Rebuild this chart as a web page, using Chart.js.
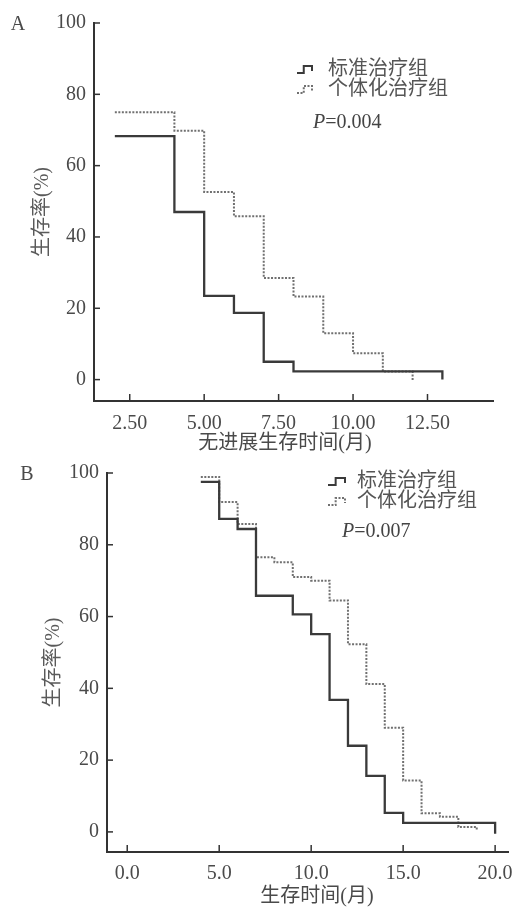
<!DOCTYPE html>
<html><head><meta charset="utf-8">
<script src="https://cdn.jsdelivr.net/npm/chart.js@4"></script>
<style>
html,body{margin:0;padding:0;background:#fff;width:512px;height:911px;overflow:hidden}
canvas{position:absolute;left:0}
</style></head><body>
<canvas id="cA" width="512" height="455" style="top:0"></canvas>
<canvas id="cB" width="512" height="456" style="top:455px"></canvas>
<script>
// ---- data ----
const seriesNames = ['标准治疗组', '个体化治疗组'];
const panelLabels = ['A', 'B'];
const pValues = ['0.004', '0.007'];
const xTitles = ['无进展生存时间(月)', '生存时间(月)'];
const yTitle = '生存率(%)';

const timeStdA = [2, 4, 5, 6, 7, 8, 13, 13];
const survStdA = [68.3, 47, 23.5, 18.7, 5, 2.3, 2.3, 0];
const timeIndA = [2, 4, 5, 6, 7, 8, 9, 10, 11, 12, 12];
const survIndA = [75, 69.8, 52.6, 45.8, 28.5, 23.3, 13, 7.4, 2.3, 2.3, -0.5];

const timeStdB = [4, 5, 6, 7, 9, 10, 11, 12, 13, 14, 15, 20, 20];
const survStdB = [97.5, 87.2, 84.4, 65.8, 60.6, 55.1, 36.8, 24, 15.6, 5.3, 2.5, 2.5, -0.5];
const timeIndB = [4, 5, 6, 7, 8, 9, 10, 11, 12, 13, 14, 15, 16, 17, 18, 19, 19];
const survIndB = [98.9, 91.9, 85.8, 76.5, 75.1, 71, 70, 64.5, 52.3, 41.2, 29, 14.3, 5.2, 4.2, 1.4, 1.4, 0.5];

const xTicksA = [2.5, 5, 7.5, 10, 12.5];
const xLabelsA = ['2.50', '5.00', '7.50', '10.00', '12.50'];
const xTicksB = [0, 5, 10, 15, 20];
const xLabelsB = ['0.0', '5.0', '10.0', '15.0', '20.0'];
const yTicks = [0, 20, 40, 60, 80, 100];
const yLabels = ['0', '20', '40', '60', '80', '100'];

// ---- drawing ----
const SERIF = '"Liberation Serif", "Noto Sans CJK SC", serif';
const AX = '#333';
const TXT = '#4a4a4a';

function pts(t, s) { return t.map((v, i) => ({ x: v, y: s[i] })); }

const annot = {
  id: 'annot',
  afterDraw(chart, args, o) {
    const ctx = chart.ctx, xs = chart.scales.x, ys = chart.scales.y;
    ctx.save();
    ctx.strokeStyle = AX; ctx.lineWidth = 1.5; ctx.setLineDash([]);
    o.xTicks.forEach(v => {
      const px = xs.getPixelForValue(v);
      ctx.beginPath(); ctx.moveTo(px, ys.bottom); ctx.lineTo(px, ys.bottom - 7); ctx.stroke();
    });
    o.yTicks.forEach(v => {
      const py = ys.getPixelForValue(v);
      ctx.beginPath(); ctx.moveTo(xs.left, py); ctx.lineTo(xs.left + 6, py); ctx.stroke();
    });
    // panel letter
    ctx.fillStyle = TXT;
    ctx.font = '20px ' + SERIF;
    ctx.textAlign = 'center'; ctx.textBaseline = 'middle';
    ctx.fillText(o.letter, o.letterX, o.letterY);
    // y title
    ctx.save();
    ctx.translate(o.yTitleX, (ys.top + ys.bottom) / 2);
    ctx.rotate(-Math.PI / 2);
    ctx.fillStyle = '#5a5a5a';
    ctx.fillText(yTitle, 0, 0);
    ctx.restore();
    // x title
    ctx.fillStyle = '#4a4a4a';
    ctx.fillText(o.xTitle, o.xTitleX, o.xTitleY);
    // legend
    chart.data.datasets.forEach((ds, i) => {
      const yc = o.legY + i * 20;
      const x0 = o.symX, w = o.symW;
      ctx.strokeStyle = ds.borderColor; ctx.lineWidth = 2;
      ctx.setLineDash(ds.borderDash || []);
      ctx.beginPath();
      ctx.moveTo(x0, yc + 3); ctx.lineTo(x0 + w * 0.45, yc + 3);
      ctx.lineTo(x0 + w * 0.45, yc - 4); ctx.lineTo(x0 + w, yc - 4);
      ctx.lineTo(x0 + w, yc + 1);
      ctx.stroke();
      ctx.setLineDash([]);
      ctx.fillStyle = '#555';
      ctx.textAlign = 'left';
      ctx.font = '20px ' + SERIF;
      ctx.fillText(ds.label, o.legTextX, yc);
    });
    // P value
    ctx.fillStyle = '#444';
    ctx.textAlign = 'left';
    ctx.font = 'italic 20px ' + SERIF;
    ctx.fillText('P', o.pX, o.pY);
    const pw = ctx.measureText('P').width;
    ctx.font = '20px ' + SERIF;
    ctx.fillText('=' + o.p, o.pX + pw, o.pY);
    ctx.restore();
  }
};

function build(id, L) {
  return new Chart(document.getElementById(id), {
    type: 'line',
    data: {
      datasets: [
        { label: seriesNames[0], data: pts(L.t1, L.s1), borderColor: '#3a3a3a', borderWidth: 2.3,
          stepped: true, pointRadius: 0, fill: false },
        { label: seriesNames[1], data: pts(L.t2, L.s2), borderColor: '#707070', borderWidth: 2,
          borderDash: [2, 1.5], stepped: true, pointRadius: 0, fill: false }
      ]
    },
    options: {
      responsive: false, animation: false, devicePixelRatio: 1,
      layout: { padding: { left: 0, right: L.padR, top: L.padT, bottom: 0 } },
      plugins: { legend: { display: false }, tooltip: { enabled: false }, annot: L.annot },
      scales: {
        x: {
          type: 'linear', min: L.xmin, max: L.xmax,
          grid: { display: false, drawTicks: false },
          border: { display: true, color: AX, width: 2 },
          afterBuildTicks: s => { s.ticks = L.xTicks.map(v => ({ value: v })); },
          afterFit: s => { s.height = L.xH; s.paddingLeft = 0; s.paddingRight = 0; },
          ticks: { padding: L.xPad, color: TXT, font: { family: SERIF, size: 20 },
                   maxRotation: 0, autoSkip: false,
                   callback: v => L.xLabels[L.xTicks.indexOf(v)] }
        },
        y: {
          type: 'linear', min: L.ymin, max: 100,
          grid: { display: false, drawTicks: false },
          border: { display: true, color: AX, width: 2 },
          afterBuildTicks: s => { s.ticks = yTicks.map(v => ({ value: v })); },
          afterFit: s => { s.width = L.yW; s.paddingTop = 0; s.paddingBottom = 0; },
          ticks: { padding: 8, color: TXT, font: { family: SERIF, size: 20 },
                   autoSkip: false,
                   callback: v => yLabels[yTicks.indexOf(v)] }
        }
      }
    },
    plugins: [annot]
  });
}

build('cA', {
  t1: timeStdA, s1: survStdA, t2: timeIndA, s2: survIndA,
  xmin: 1.3, xmax: 14.7, ymin: -6, xTicks: xTicksA, xLabels: xLabelsA,
  padR: 19, padT: 23, xH: 54, yW: 94, xPad: 11,
  annot: { xTicks: xTicksA, yTicks: yTicks, letter: panelLabels[0], letterX: 18, letterY: 25,
           yTitleX: 43, xTitle: xTitles[0], xTitleX: 285, xTitleY: 444,
           legY: 70, symX: 297, symW: 15, legTextX: 328, pX: 313, pY: 123, p: pValues[0] }
});

build('cB', {
  t1: timeStdB, s1: survStdB, t2: timeIndB, s2: survIndB,
  xmin: -1.1, xmax: 20.7, ymin: -5.6, xTicks: xTicksB, xLabels: xLabelsB,
  padR: 4, padT: 18, xH: 59, yW: 107, xPad: 10,
  annot: { xTicks: xTicksB, yTicks: yTicks, letter: panelLabels[1], letterX: 27, letterY: 20,
           yTitleX: 54, xTitle: xTitles[1], xTitleX: 317, xTitleY: 442,
           legY: 27, symX: 328, symW: 17, legTextX: 357, pX: 342, pY: 77, p: pValues[1] }
});
</script>
</body></html>
